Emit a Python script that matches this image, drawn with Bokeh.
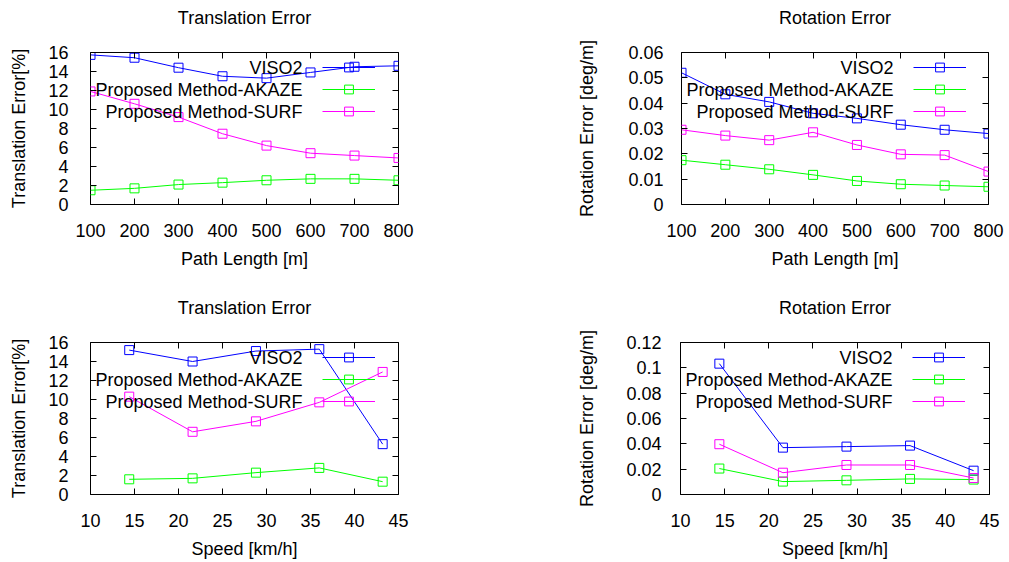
from bokeh.plotting import figure
from bokeh.models import (Range1d, FixedTicker, LinearAxis, Legend, LegendItem, Label, Title)
from bokeh.layouts import column, row
from bokeh.core.properties import value
from bokeh.embed import file_html
from bokeh.resources import INLINE

# ---------------- data ----------------
series_names = ["VISO2", "Proposed Method-AKAZE", "Proposed Method-SURF"]
series_colors = ["#0000ff", "#00ff00", "#ff00ff"]

path_length = [100, 200, 300, 400, 500, 600, 700, 800]
trans_path_viso2 = [15.75, 15.45, 14.4, 13.5, 13.3, 13.9, 14.5, 14.6]
trans_path_akaze = [1.5, 1.7, 2.1, 2.3, 2.55, 2.7, 2.7, 2.55]
trans_path_surf = [11.9, 10.6, 9.2, 7.45, 6.2, 5.4, 5.15, 4.9]

rot_path_viso2 = [0.052, 0.0435, 0.0405, 0.036, 0.034, 0.0315, 0.0295, 0.028]
rot_path_akaze = [0.0175, 0.0157, 0.0139, 0.0117, 0.0093, 0.008, 0.0075, 0.007]
rot_path_surf = [0.0295, 0.0272, 0.0254, 0.0285, 0.0235, 0.0198, 0.0195, 0.013]

speed = [14.4, 21.6, 28.8, 36.0, 43.2]
trans_speed_viso2 = [15.2, 14.0, 15.1, 15.3, 5.3]
trans_speed_akaze = [1.6, 1.7, 2.3, 2.8, 1.35]
trans_speed_surf = [10.3, 6.6, 7.7, 9.7, 12.9]

rot_speed_viso2 = [0.1033, 0.037, 0.0378, 0.0386, 0.0188]
rot_speed_akaze = [0.0205, 0.0102, 0.0112, 0.0123, 0.0118]
rot_speed_surf = [0.0397, 0.0172, 0.0233, 0.0233, 0.013]

path_ticks = [100, 200, 300, 400, 500, 600, 700, 800]
path_tick_labels = ["100", "200", "300", "400", "500", "600", "700", "800"]
speed_ticks = [10, 15, 20, 25, 30, 35, 40, 45]
speed_tick_labels = ["10", "15", "20", "25", "30", "35", "40", "45"]
trans_ticks = [0, 2, 4, 6, 8, 10, 12, 14, 16]
trans_tick_labels = ["0", "2", "4", "6", "8", "10", "12", "14", "16"]
rot_path_ticks = [0, 0.01, 0.02, 0.03, 0.04, 0.05, 0.06]
rot_path_tick_labels = ["0", "0.01", "0.02", "0.03", "0.04", "0.05", "0.06"]
rot_speed_ticks = [0, 0.02, 0.04, 0.06, 0.08, 0.1, 0.12]
rot_speed_tick_labels = ["0", "0.02", "0.04", "0.06", "0.08", "0.1", "0.12"]

FONT = "Liberation Sans"
FS = "18px"


def panel(title, xlabel, ylabel, xr, yr, xt, xtl, yt, ytl, x, ys,
          left, fw, right, top, fh, bottom, ystand, ylab_stand):
    p = figure(frame_width=fw, frame_height=fh, min_border_left=left,
               min_border_right=right, min_border_top=top, min_border_bottom=bottom,
               x_range=Range1d(*xr), y_range=Range1d(*yr), title=None,
               output_backend="svg", toolbar_location=None, tools="",
               x_axis_location=None, y_axis_location=None)
    p.background_fill_color = "white"
    p.border_fill_color = "white"
    p.outline_line_color = "black"
    p.outline_line_alpha = 1.0
    p.outline_line_width = 1
    p.xgrid.visible = False
    p.ygrid.visible = False

    def style(ax):
        ax.major_tick_in = 6
        ax.major_tick_out = 0
        ax.minor_tick_line_color = None
        ax.axis_line_color = None
        ax.major_tick_line_color = "black"
        ax.major_label_text_font = FONT
        ax.major_label_text_font_size = FS
        ax.major_label_text_color = "black"
        ax.axis_label_text_font = FONT
        ax.axis_label_text_font_size = FS
        ax.axis_label_text_font_style = "normal"
        ax.axis_label_text_color = "black"

    xa = LinearAxis(ticker=FixedTicker(ticks=xt), axis_label=xlabel,
                    major_label_overrides={t: l for t, l in zip(xt, xtl)})
    style(xa)
    xa.major_label_standoff = 19
    xa.axis_label_standoff = 9
    p.add_layout(xa, "below")

    ya = LinearAxis(ticker=FixedTicker(ticks=yt), axis_label=ylabel,
                    major_label_overrides={t: l for t, l in zip(yt, ytl)})
    style(ya)
    ya.major_label_standoff = ystand
    ya.axis_label_standoff = ylab_stand
    p.add_layout(ya, "left")

    # mirror axis on top: ticks only; a blank axis label gives the gap under the title
    xm = LinearAxis(ticker=FixedTicker(ticks=xt), axis_label=" ",
                    major_label_overrides={t: "" for t in xt})
    style(xm)
    xm.major_label_standoff = 0
    xm.major_label_text_font_size = "0px"
    xm.axis_label_standoff = 2
    p.add_layout(xm, "above")

    ym = LinearAxis(ticker=FixedTicker(ticks=yt),
                    major_label_overrides={t: "" for t in yt})
    style(ym)
    ym.major_label_standoff = 0
    ym.major_label_text_font_size = "0px"
    p.add_layout(ym, "right")

    p.add_layout(Title(text=title, align="center", text_font=FONT, text_font_size=FS,
                       text_font_style="normal", text_color="black", standoff=0), "above")

    items = []
    for name, color, y in zip(series_names, series_colors, ys):
        lr = p.line(x, y, line_color=color, line_width=1)
        sr = p.scatter(x, y, marker="square", size=9, line_color=color,
                       fill_color=None, line_width=1)
        items.append(LegendItem(label=value(""), renderers=[lr, sr]))

    leg = Legend(items=items, location=(232, 82), padding=0, margin=0, spacing=0,
                 glyph_width=53, glyph_height=22, label_height=22, label_width=0,
                 label_standoff=0, border_line_color=None, background_fill_alpha=0,
                 label_text_font_size="1px")
    p.add_layout(leg)

    for i, name in enumerate(series_names):
        p.add_layout(Label(x=212, y=fh - 15 - 22 * i, x_units="screen", y_units="screen",
                           text=name, text_align="right", text_baseline="middle",
                           text_font=FONT, text_font_size=FS, text_color="black"))
    return p


tl = panel("Translation Error", "Path Length [m]", "Translation Error[%]",
           (100, 800), (0, 16), path_ticks, path_tick_labels, trans_ticks, trans_tick_labels,
           path_length, [trans_path_viso2, trans_path_akaze, trans_path_surf],
           90, 308, 106, 52, 152, 86, 22, 16)
tr = panel("Rotation Error", "Path Length [m]", "Rotation Error [deg/m]",
           (100, 800), (0, 0.06), path_ticks, path_tick_labels, rot_path_ticks, rot_path_tick_labels,
           path_length, [rot_path_viso2, rot_path_akaze, rot_path_surf],
           177, 307, 21, 52, 152, 86, 18, 28)
bl = panel("Translation Error", "Speed [km/h]", "Translation Error[%]",
           (10, 45), (0, 16), speed_ticks, speed_tick_labels, trans_ticks, trans_tick_labels,
           speed, [trans_speed_viso2, trans_speed_akaze, trans_speed_surf],
           90, 308, 106, 52, 152, 68, 22, 16)
br = panel("Rotation Error", "Speed [km/h]", "Rotation Error [deg/m]",
           (10, 45), (0, 0.12), speed_ticks, speed_tick_labels, rot_speed_ticks, rot_speed_tick_labels,
           speed, [rot_speed_viso2, rot_speed_akaze, rot_speed_surf],
           176, 309, 20, 52, 152, 68, 19, 26)

layout = column(row(tl, tr), row(bl, br))
open("out.html", "w").write(file_html(layout, INLINE))
